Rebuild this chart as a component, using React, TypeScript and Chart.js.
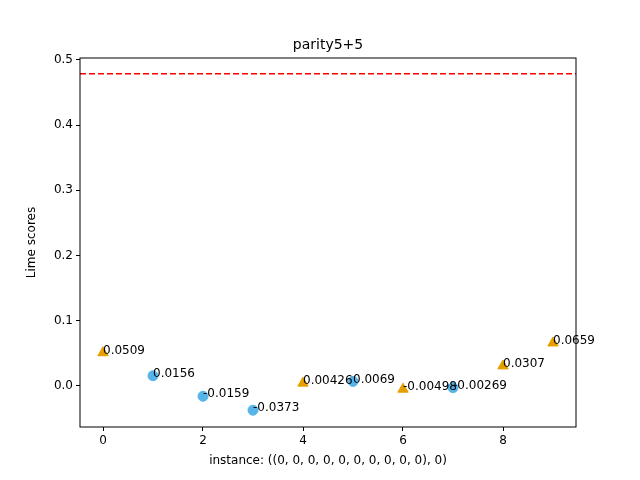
import { useEffect, useRef } from 'react';
import { Chart, registerables } from 'chart.js';

Chart.register(...registerables);

const instances = [0, 1, 2, 3, 4, 5, 6, 7, 8, 9];
const scores = [0.0509, 0.0156, -0.0159, -0.0373, 0.00426, 0.0069, -0.00498, -0.00269, 0.0307, 0.0659];
const labels = ['0.0509', '0.0156', '-0.0159', '-0.0373', '0.00426', '0.0069', '-0.00498', '-0.00269', '0.0307', '0.0659'];
const isTriangle = [true, false, false, false, true, false, true, false, true, true];
const threshold = 0.479;
const xTicks = [0, 2, 4, 6, 8];
const yTicks = [0, 0.1, 0.2, 0.3, 0.4, 0.5];

const FONT = 'DejaVu Sans, sans-serif';

const extras = {
    id: 'extras',
    afterDatasetsDraw(chart: any) {
        const { ctx, chartArea } = chart;
        const meta = chart.getDatasetMeta(1);
        ctx.save();
        ctx.font = `12px ${FONT}`;
        ctx.fillStyle = '#000';
        ctx.textAlign = 'left';
        ctx.textBaseline = 'bottom';
        meta.data.forEach((pt: any, i: number) => {
            ctx.fillText(labels[i], pt.x, pt.y + 4);
        });
        ctx.strokeStyle = '#000';
        ctx.lineWidth = 1;
        ctx.strokeRect(chartArea.left, chartArea.top, chartArea.right - chartArea.left, chartArea.bottom - chartArea.top);
        ctx.textAlign = 'center';
        ctx.textBaseline = 'alphabetic';
        ctx.font = `14px ${FONT}`;
        ctx.fillText('parity5+5', (chartArea.left + chartArea.right) / 2, 49);
        ctx.restore();
    },
};

export default function App() {
    const canvasRef = useRef<HTMLCanvasElement | null>(null);

    useEffect(() => {
        if (!canvasRef.current) return;
        document.body.style.margin = '0';
        const chart = new Chart(canvasRef.current, {
            type: 'scatter',
            data: {
                datasets: [
                    {
                        type: 'line',
                        data: [{ x: -0.46, y: threshold }, { x: 9.46, y: threshold }],
                        borderColor: '#ff0000',
                        borderWidth: 1.5,
                        borderDash: [6, 3],
                        pointRadius: 0,
                    },
                    {
                        data: instances.map((x, i) => ({ x, y: scores[i] })),
                        pointStyle: isTriangle.map((t) => (t ? 'triangle' : 'circle')),
                        backgroundColor: isTriangle.map((t) => (t ? '#E69F00' : '#56B4E9')),
                        borderColor: isTriangle.map((t) => (t ? '#E69F00' : '#56B4E9')),
                        pointRadius: isTriangle.map((t) => (t ? 6 : 5)),
                    },
                ],
            } as any,
            options: {
                animation: false,
                responsive: false,
                devicePixelRatio: 1,
                layout: { padding: { top: 58, right: 64, left: 25, bottom: 10 } },
                plugins: { legend: { display: false }, tooltip: { enabled: false } },
                scales: {
                    x: {
                        type: 'linear',
                        min: -0.46,
                        max: 9.46,
                        afterBuildTicks: (s: any) => { s.ticks = xTicks.map((v) => ({ value: v })); },
                        afterFit: (s: any) => { s.height = 43; },
                        grid: { drawOnChartArea: false, tickLength: 4, color: '#000' },
                        border: { display: false },
                        ticks: { color: '#000', font: { family: FONT, size: 12 } },
                        title: { display: true, text: 'instance: ((0, 0, 0, 0, 0, 0, 0, 0, 0, 0), 0)', color: '#000', font: { family: FONT, size: 12 }, padding: 2 },
                    },
                    y: {
                        type: 'linear',
                        min: -0.063,
                        max: 0.503,
                        afterBuildTicks: (s: any) => { s.ticks = yTicks.map((v) => ({ value: v })); },
                        afterFit: (s: any) => { s.width = 55; },
                        grid: { drawOnChartArea: false, tickLength: 4, color: '#000' },
                        border: { display: false },
                        ticks: { color: '#000', font: { family: FONT, size: 12 }, callback: (v: any) => Number(v).toFixed(1) },
                        title: { display: true, text: 'Lime scores', color: '#000', font: { family: FONT, size: 12 }, padding: 0 },
                    },
                },
            },
            plugins: [extras],
        });
        return () => chart.destroy();
    }, []);

    return <canvas ref={canvasRef} width={640} height={480} />;
}
